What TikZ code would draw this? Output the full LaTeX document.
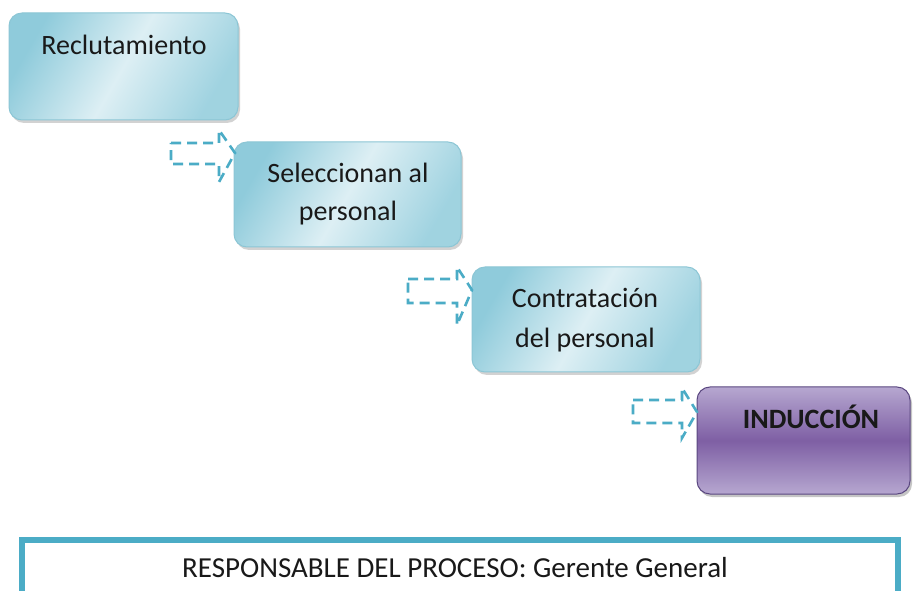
\documentclass[tikz,border=0pt]{standalone}
\usepackage{fontspec}
\setmainfont{Carlito}
\usetikzlibrary{shadows}
\definecolor{arrowblue}{HTML}{4BACC6}
\definecolor{boxdark}{HTML}{8FCBDB}
\definecolor{boxlight}{HTML}{DDEFF4}
\definecolor{boxedge}{HTML}{8CC6D5}
\definecolor{purpdark}{HTML}{7E5FA4}
\definecolor{purplight}{HTML}{B6A7D0}
\definecolor{purpedge}{HTML}{5A4780}
\tikzset{
  bluebox/.style={rectangle, rounded corners=13pt, draw=boxedge, line width=1pt,
    left color=boxdark, right color=boxdark!85, middle color=boxlight, shading angle=60,
    drop shadow={shadow xshift=2pt, shadow yshift=-3pt, opacity=0.35}},
  purplebox/.style={rectangle, rounded corners=13pt, draw=purpedge, line width=1pt,
    top color=purplight, bottom color=purplight, middle color=purpdark,
    drop shadow={shadow xshift=2pt, shadow yshift=-3pt, opacity=0.45}},
  boxtext/.style={anchor=base, font=\fontsize{28}{34}\selectfont, text=black!90},
  dasharrow/.style={draw=arrowblue, line width=2.6pt, dash pattern=on 10pt off 6pt, line join=miter},
  frame/.style={draw=arrowblue, line width=6pt}
}
\begin{document}
\begin{tikzpicture}[x=1pt,y=1pt]
\path[use as bounding box, fill=white] (0,0) rectangle (914,590);
% boxes
\node[bluebox, minimum width=229pt, minimum height=107pt] (b1) at (123.5,523.5) {};
\node[bluebox, minimum width=227pt, minimum height=105pt] (b2) at (347.5,395.5) {};
\node[bluebox, minimum width=228pt, minimum height=105pt] (b3) at (586,270.5) {};
\node[purplebox, minimum width=213pt, minimum height=107pt] (b4) at (803.5,149.5) {};
% texts
\node[boxtext] (t1) at (124,535) {Reclutamiento};
\node[boxtext] (t2a) at (348,407) {Seleccionan al};
\node[boxtext] (t2b) at (348,369) {personal};
\node[boxtext] (t3a) at (585,282) {Contratación};
\node[boxtext] (t3b) at (585,242) {del personal};
\node[boxtext, font=\fontsize{28}{34}\selectfont\bfseries] (t4) at (811,161) {INDUCCIÓN};
% dashed arrows
\draw[dasharrow] (171,447) -- (219,447) -- (219,460) -- (235,437) -- (219,408) -- (219,426) -- (171,426) -- cycle;
\draw[dasharrow] (408,311) -- (457,311) -- (457,323) -- (472,300) -- (457,265) -- (457,287) -- (408,287) -- cycle;
\draw[dasharrow] (633,190) -- (682,190) -- (682,202) -- (697,178) -- (682,152) -- (682,167) -- (633,167) -- cycle;
% bottom frame
\coordinate (fl) at (22,-5);
\coordinate (fr) at (898,-5);
\draw[frame] (fl) -- (22,50) -- (898,50) -- (fr);
\node[anchor=base, font=\fontsize{29}{30}\selectfont, text=black!90] (resp) at (455,13) {RESPONSABLE DEL PROCESO: Gerente General};
\end{tikzpicture}
\end{document}
